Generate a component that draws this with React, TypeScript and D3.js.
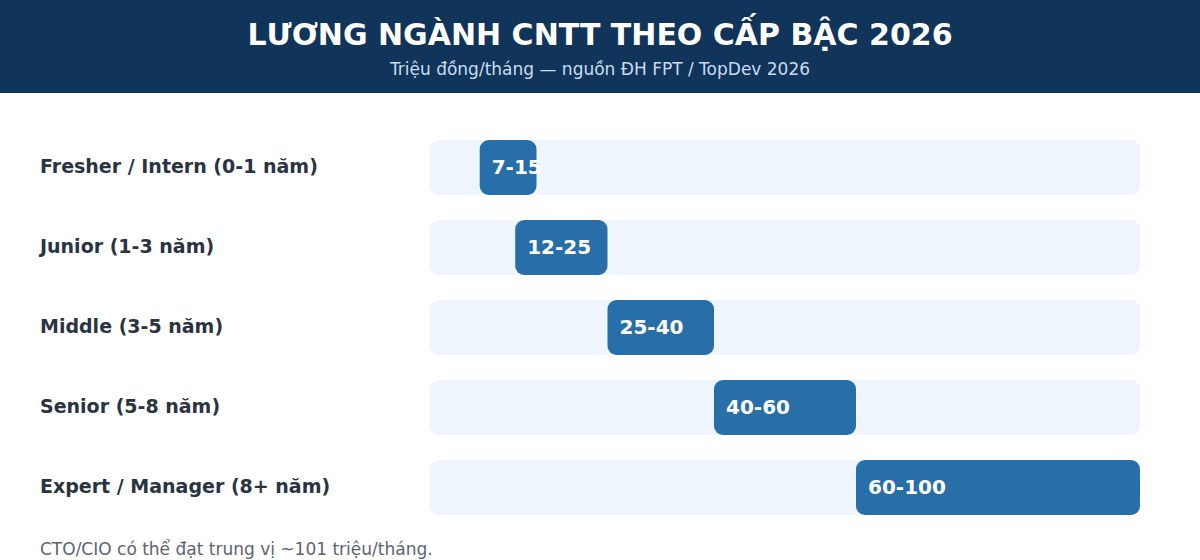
import React from 'react';
import * as d3 from 'd3';

const LEVELS = [
  'Fresher / Intern (0-1 năm)',
  'Junior (1-3 năm)',
  'Middle (3-5 năm)',
  'Senior (5-8 năm)',
  'Expert / Manager (8+ năm)',
];
const LOW = [7, 12, 25, 40, 60];
const HIGH = [15, 25, 40, 60, 100];

const W = 1200;
const H = 560;
const FONT = '"DejaVu Sans", Verdana, sans-serif';

const App: React.FC = () => {
  const x = d3.scaleLinear().domain([0, 100]).range([430, 1140]);
  const y = d3.scaleBand<string>().domain(LEVELS).range([127.5, 527.5]).paddingInner(25 / 80).paddingOuter(12.5 / 80);
  const bw = y.bandwidth();

  return (
    <div style={{ position: 'absolute', left: 0, top: 0, width: W, height: H }}>
      <svg width={W} height={H} style={{ display: 'block', fontFamily: FONT }}>
        <rect width={W} height={H} fill="#fff" />
        {/* header band */}
        <rect width={W} height={93} fill="#10345a" />
        <text x={W / 2} y={45} textAnchor="middle" fill="#fff" fontSize={30} fontWeight="bold">
          LƯƠNG NGÀNH CNTT THEO CẤP BẬC 2026
        </text>
        <text x={W / 2} y={75} textAnchor="middle" fill="#c9dcf0" fontSize={17}>
          Triệu đồng/tháng — nguồn ĐH FPT / TopDev 2026
        </text>

        {LEVELS.map((lv, i) => {
          const yy = y(lv)!;
          const x0 = x(LOW[i]);
          const x1 = x(HIGH[i]);
          return (
            <g key={lv}>
              <text x={40} y={yy + bw / 2 - 1.5} dominantBaseline="central" fill="#2a3342" fontSize={19} fontWeight="bold">
                {lv}
              </text>
              <rect x={x(0)} y={yy} width={x(100) - x(0)} height={bw} rx={9} fill="#eff5fd" />
              <rect x={x0} y={yy} width={x1 - x0} height={bw} rx={9} fill="#286ea9" />
              <text x={x0 + 12} y={yy + bw / 2 - 0.5} dominantBaseline="central" fill="#fff" fontSize={20} fontWeight="bold">
                {`${LOW[i]}-${HIGH[i]}`}
              </text>
            </g>
          );
        })}

        {/* footnote, kept just inside the bottom edge */}
        <text x={40} y={555} fill="#5c6472" fontSize={17}>
          CTO/CIO có thể đạt trung vị ~101 triệu/tháng.
        </text>
      </svg>
    </div>
  );
};

export default App;
